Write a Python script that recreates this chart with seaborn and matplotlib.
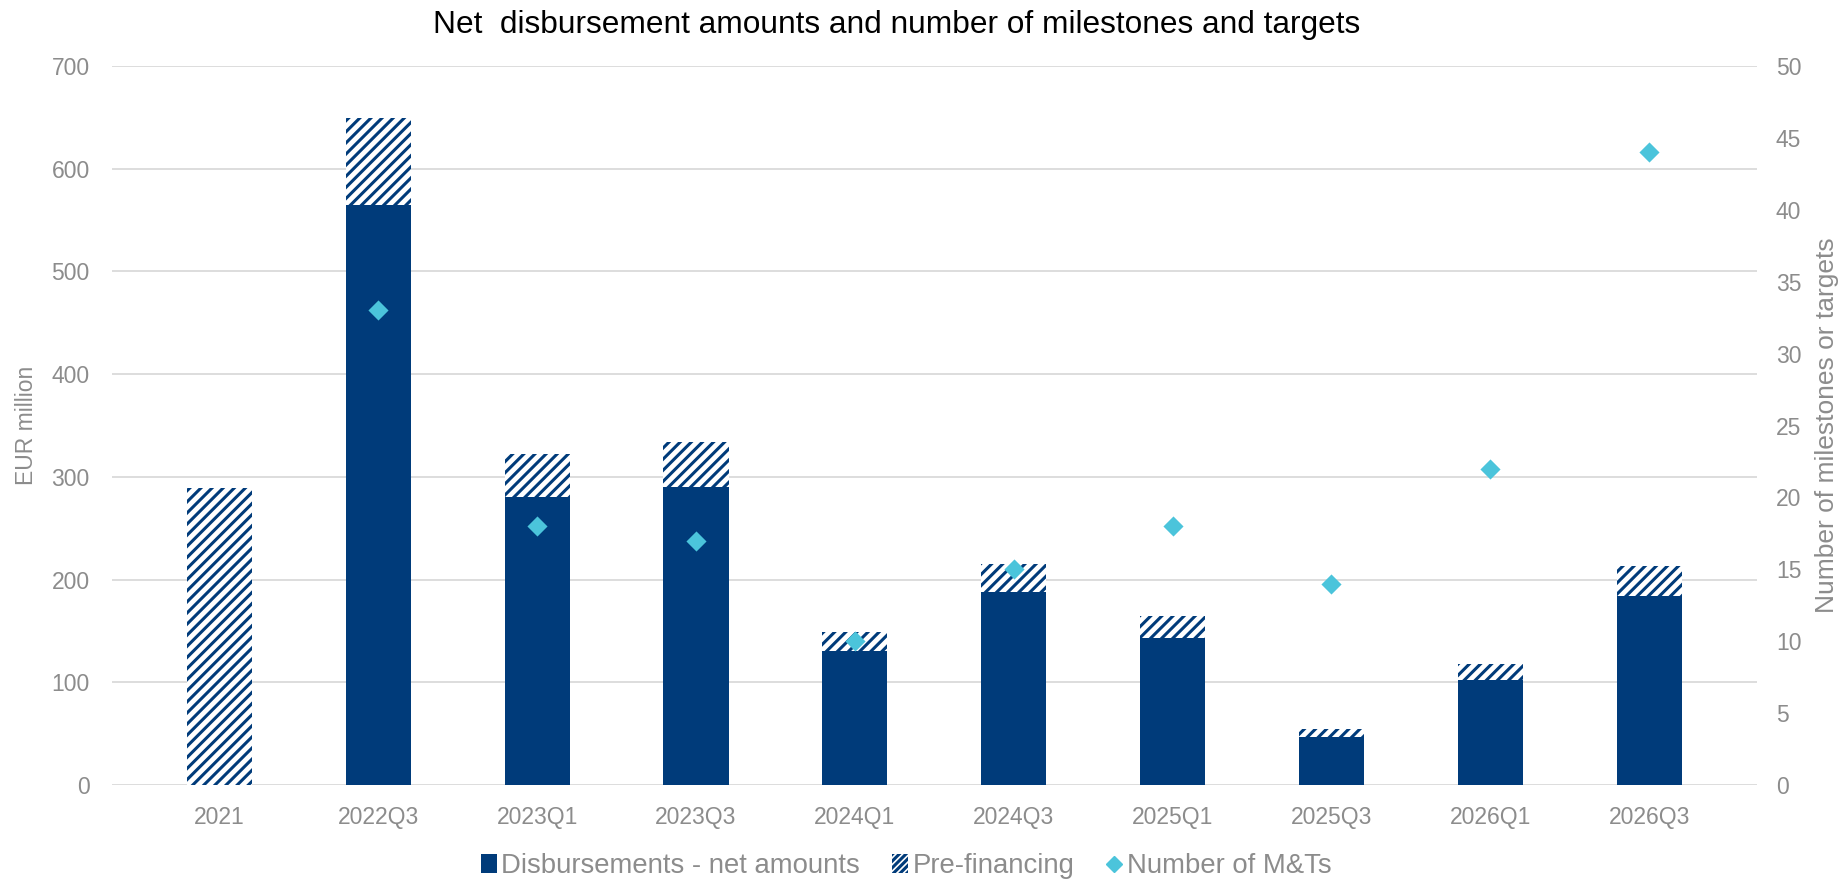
import numpy as np
import pandas as pd
import seaborn as sns
import matplotlib.pyplot as plt
from matplotlib.patches import Patch
from matplotlib.lines import Line2D

# --- datos ---
periods = ['2021', '2022Q3', '2023Q1', '2023Q3', '2024Q1', '2024Q3',
           '2025Q1', '2025Q3', '2026Q1', '2026Q3']
net_amounts = [0, 565, 280, 290, 130, 188, 143, 47, 102, 184]
total_amounts = [289, 649, 322, 334, 149, 215, 165, 55, 118, 213]
n_mts = [np.nan, 33, 18, 17, 10, 15, 18, 14, 22, 44]

df = pd.DataFrame({'Periodo': periods, 'Net': net_amounts,
                   'Total': total_amounts, 'MTs': n_mts})
df['pos'] = np.arange(len(df))

navy = '#003B7A'
cyan = '#4BC4DB'
grey = '#8C8C8C'

sns.set_theme(style='white')
plt.rcParams['font.family'] = ['Liberation Sans', 'DejaVu Sans']
plt.rcParams['hatch.linewidth'] = 2.2

fig, ax = plt.subplots(figsize=(18.49, 8.85), dpi=100)
fig.subplots_adjust(left=0.0606, right=0.950, bottom=0.113, top=0.9254)

# barras: total (rayado) y neto encima
sns.barplot(data=df, x='Periodo', y='Total', color='white', width=0.41,
            edgecolor=navy, linewidth=0, hatch='///', ax=ax, zorder=2)
sns.barplot(data=df, x='Periodo', y='Net', color=navy, saturation=1,
            width=0.41, linewidth=0, ax=ax, zorder=3)

ax.set_ylim(0, 700)
ax.set_yticks(range(0, 701, 100))
ax.grid(axis='y', color='#DADADA', linewidth=1.3, zorder=0)
ax.set_axisbelow(True)
ax.set_xlabel('')
ax.set_ylabel('EUR million', fontsize=16.5, color=grey, labelpad=10)
ax.tick_params(axis='x', length=0, pad=15, labelsize=16.5, labelcolor=grey)
ax.tick_params(axis='y', length=0, pad=16, labelsize=16.5, labelcolor=grey)
for s in ax.spines.values():
    s.set_visible(False)

# eje secundario: número de hitos y objetivos
ax2 = ax.twinx()
sns.scatterplot(data=df.dropna(), x='pos', y='MTs', marker='D', s=105,
                color=cyan, linewidth=0, ax=ax2, zorder=5)
ax2.set_ylim(0, 50)
ax2.set_yticks(range(0, 51, 5))
ax2.set_xlim(ax.get_xlim())
ax2.set_ylabel('Number of milestones or targets', fontsize=19, color=grey, labelpad=10)
ax2.tick_params(axis='y', length=0, pad=14, labelsize=16.5, labelcolor=grey)
ax2.grid(False)
for s in ax2.spines.values():
    s.set_visible(False)

fig.text(0.485, 0.963, 'Net  disbursement amounts and number of milestones and targets',
         ha='center', va='baseline', fontsize=22.8, color='black')

handles = [
    Patch(facecolor=navy, edgecolor=navy, linewidth=0),
    Patch(facecolor='white', edgecolor=navy, linewidth=0, hatch='/////'),
    Line2D([], [], marker='D', linestyle='none', color=cyan, markersize=8),
]
labels = ['Disbursements - net amounts', 'Pre-financing', 'Number of M&Ts']
fig.legend(handles, labels, loc='center', bbox_to_anchor=(0.49, 0.021), ncol=3,
           frameon=False, fontsize=19.8, labelcolor=grey, handlelength=0.6,
           handleheight=0.7, handletextpad=0.15, columnspacing=1.15)

fig.savefig('out.png', dpi=100)
